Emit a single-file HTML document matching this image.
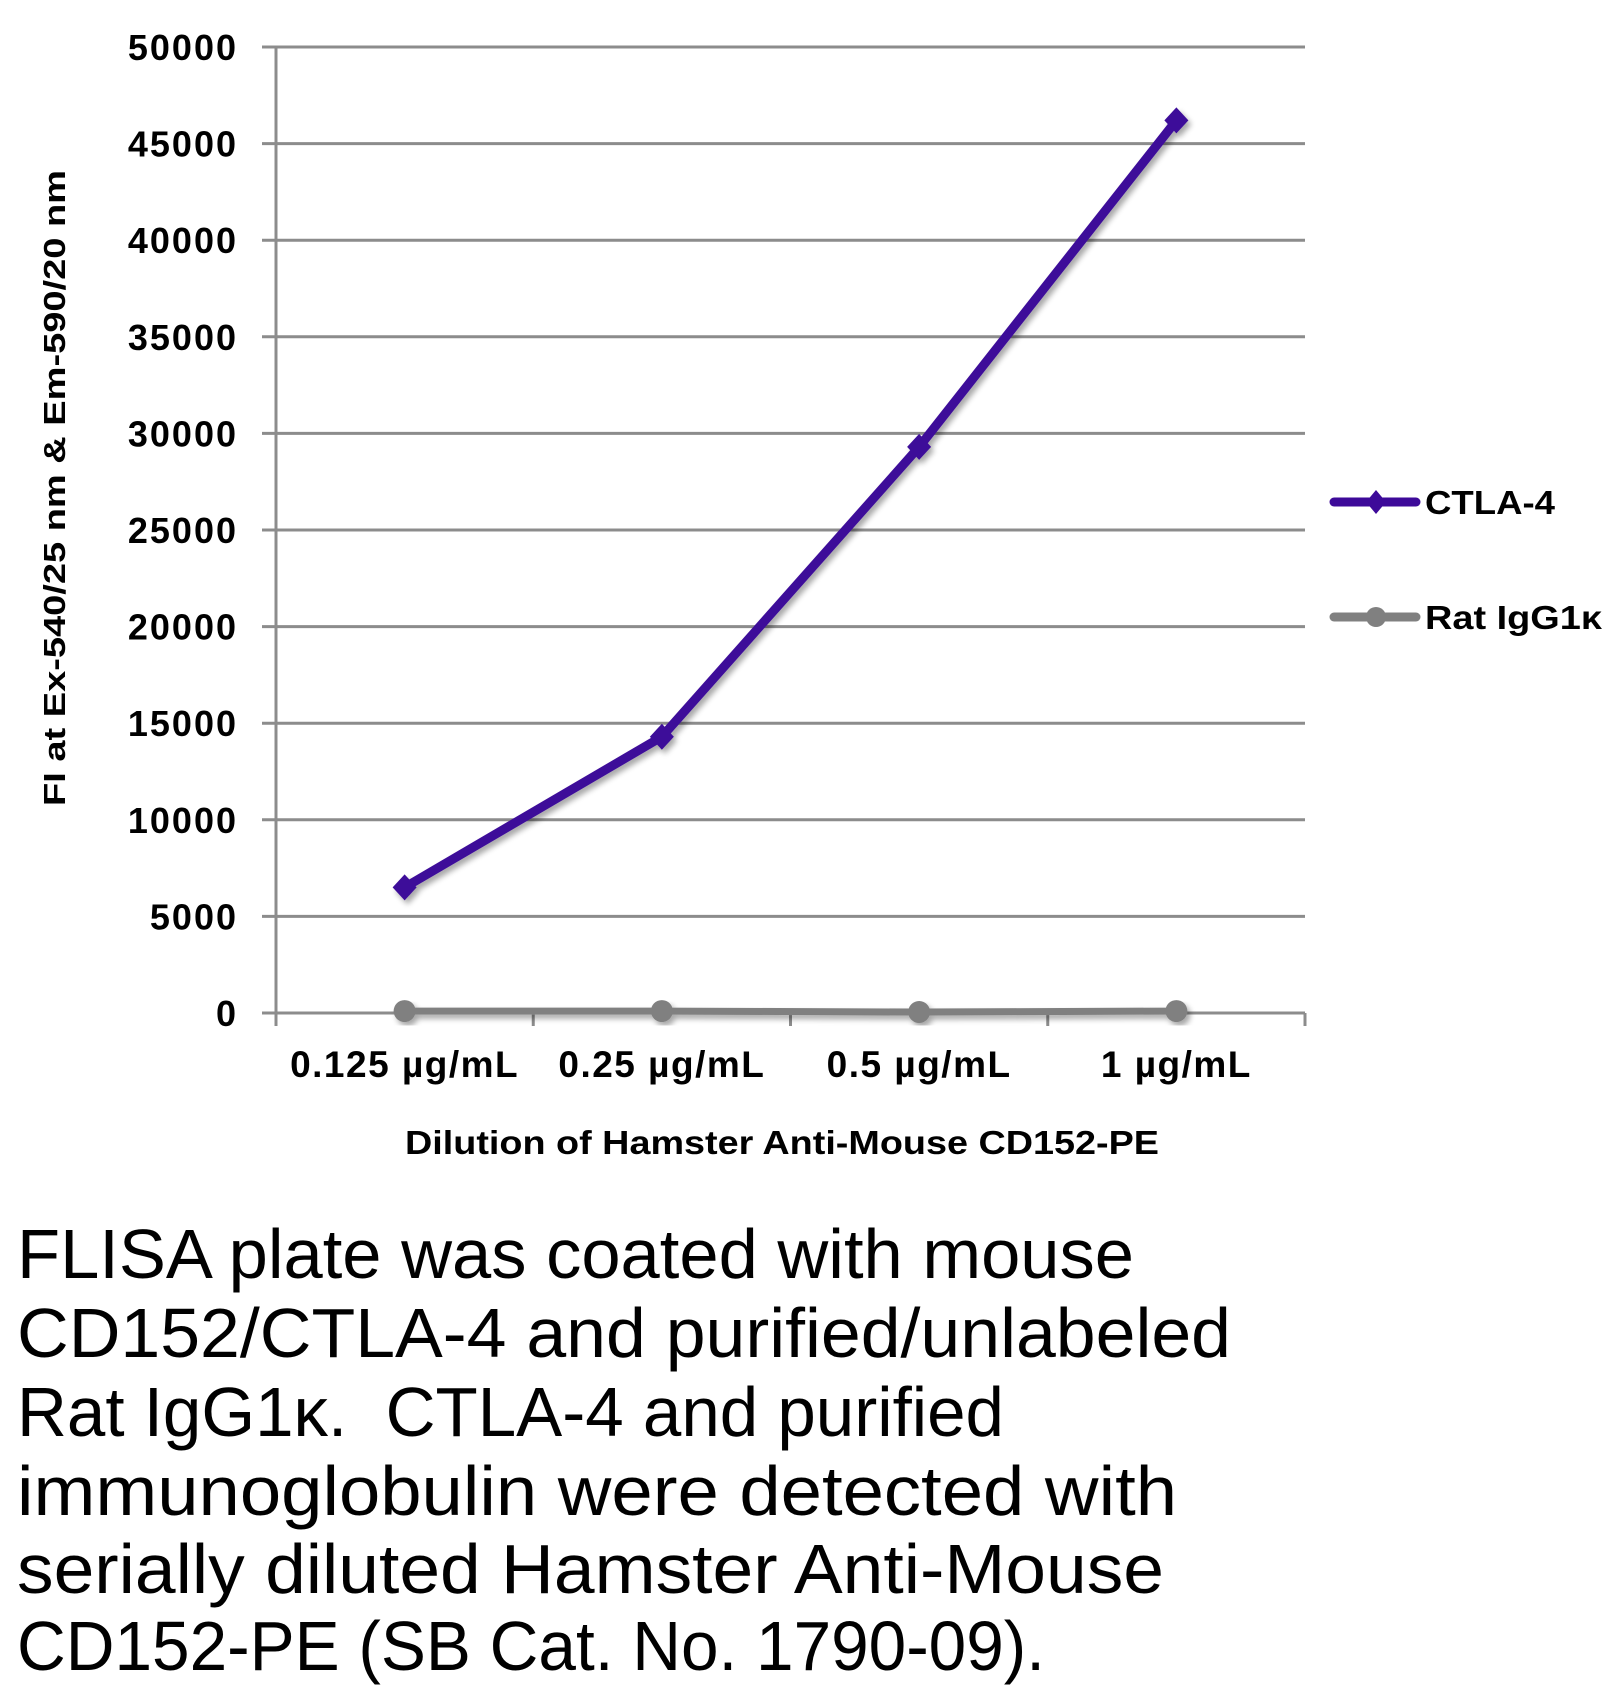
<!DOCTYPE html>
<html><head><meta charset="utf-8"><style>
html,body{margin:0;padding:0;background:#fff}
svg{display:block}
text{font-family:"Liberation Sans",sans-serif}
</style></head><body>
<svg id="chart" width="1620" height="1704" viewBox="0 0 1620 1704" xmlns="http://www.w3.org/2000/svg">
<defs>
<filter id="sh" x="-10%" y="-10%" width="120%" height="120%"><feGaussianBlur in="SourceAlpha" stdDeviation="3"/><feOffset dx="3" dy="4"/><feComponentTransfer><feFuncA type="linear" slope="0.35"/></feComponentTransfer><feMerge><feMergeNode/><feMergeNode in="SourceGraphic"/></feMerge></filter>
</defs>
<g id="grid"></g>
<g id="series"></g>
<text transform="translate(65,488) rotate(-90)" text-anchor="middle" font-weight="bold" font-size="31" textLength="636" lengthAdjust="spacingAndGlyphs">FI at Ex-540/25 nm &amp; Em-590/20 nm</text>
<text x="782" y="1154" text-anchor="middle" font-weight="bold" font-size="33" textLength="754" lengthAdjust="spacingAndGlyphs">Dilution of Hamster Anti-Mouse CD152-PE</text>
<g>
<g>
<line x1="1334" y1="502" x2="1416" y2="502" stroke="#3d0a99" stroke-width="9" stroke-linecap="round"/>
<polygon points="1376,490 1386,502 1376,514 1366,502" fill="#3d0a99"/>
<text x="1425" y="514" font-weight="bold" font-size="33" textLength="130" lengthAdjust="spacingAndGlyphs">CTLA-4</text>
</g>
<g>
<line x1="1334" y1="617" x2="1416" y2="617" stroke="#808080" stroke-width="9" stroke-linecap="round"/>
<circle cx="1376" cy="617" r="10" fill="#808080"/>
<text x="1425" y="629" font-weight="bold" font-size="33" textLength="177" lengthAdjust="spacingAndGlyphs">Rat IgG1κ</text>
</g>
</g>
<g font-size="70" fill="#000">
<text x="17" y="1278" textLength="1117" lengthAdjust="spacingAndGlyphs">FLISA plate was coated with mouse</text>
<text x="17" y="1357" textLength="1214" lengthAdjust="spacingAndGlyphs">CD152/CTLA-4 and purified/unlabeled</text>
<text x="17" y="1436" textLength="987" lengthAdjust="spacingAndGlyphs" xml:space="preserve">Rat IgG1κ.  CTLA-4 and purified</text>
<text x="17" y="1515" textLength="1160" lengthAdjust="spacingAndGlyphs">immunoglobulin were detected with</text>
<text x="17" y="1593" textLength="1147" lengthAdjust="spacingAndGlyphs">serially diluted Hamster Anti-Mouse</text>
<text x="17" y="1670" textLength="1028" lengthAdjust="spacingAndGlyphs">CD152-PE (SB Cat. No. 1790-09).</text>
</g>
</svg>
<script>
const categories = ["0.125 µg/mL","0.25 µg/mL","0.5 µg/mL","1 µg/mL"];
const ctla4 = [6500, 14300, 29300, 46200];
const ratIgG = [100, 100, 50, 100];
const yTicks = [0,5000,10000,15000,20000,25000,30000,35000,40000,45000,50000];

const NS="http://www.w3.org/2000/svg";
const X0=276, X1=1305, Y0=1013, Y1=47, YMAX=50000;
const y = v => Y0 - (v/YMAX)*(Y0-Y1);
const band=(X1-X0)/categories.length;
const x = i => X0 + band*(i+0.5);
function mk(tag,attrs,parent){const e=document.createElementNS(NS,tag);for(const k in attrs)e.setAttribute(k,attrs[k]);parent.appendChild(e);return e;}
const grid=document.getElementById('grid');
yTicks.forEach(t=>{
  const l=mk('line',{x1:262,x2:X1,y1:y(t),y2:y(t),stroke:'#8c8c8c','stroke-width':3},grid);
  
  
  const tx=mk('text',{x:238,y:y(t)+13,'text-anchor':'end','font-weight':'bold','font-size':36,'letter-spacing':2},grid);
  tx.textContent=t;
  
  
});
const ax=mk('line',{x1:X0,x2:X0,y1:Y1,y2:Y0+12,stroke:'#8c8c8c','stroke-width':3},grid);


for(let i=0;i<=categories.length;i++){
  const tk=mk('line',{x1:X0+band*i,x2:X0+band*i,y1:Y0,y2:Y0+13,stroke:'#8c8c8c','stroke-width':3},grid);
  
  
}
categories.forEach((c,i)=>{
  const tx=mk('text',{x:x(i),y:1077,'text-anchor':'middle','font-weight':'bold','font-size':37,'letter-spacing':1.5},grid);
  tx.textContent=c;
  
  
});
const ser=document.getElementById('series');
const g2=mk('g',{filter:'url(#sh)'},ser);


mk('polyline',{points:ratIgG.map((v,i)=>x(i)+','+y(v)).join(' '),fill:'none',stroke:'#808080','stroke-width':7,'stroke-linejoin':'round'},g2);
ratIgG.forEach((v,i)=>{
  const c=mk('circle',{cx:x(i),cy:y(v),r:11,fill:'#808080'},g2);
  
  
});
const g1=mk('g',{filter:'url(#sh)'},ser);


mk('polyline',{points:ctla4.map((v,i)=>x(i)+','+y(v)).join(' '),fill:'none',stroke:'#3d0a99','stroke-width':9,'stroke-linejoin':'round'},g1);
ctla4.forEach((v,i)=>{
  const px=x(i),py=y(v);
  const p=mk('polygon',{points:`${px},${py-13} ${px+12},${py} ${px},${py+13} ${px-12},${py}`,fill:'#3d0a99'},g1);
  
  
});
</script>
</body></html>
